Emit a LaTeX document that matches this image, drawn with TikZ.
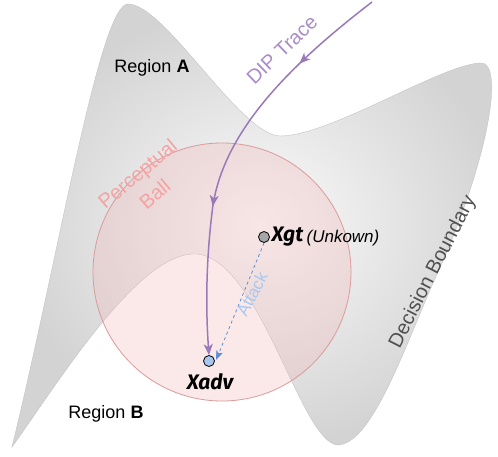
\documentclass[tikz,border=0pt]{standalone}
\usepackage{fontspec}
\setmainfont{Liberation Sans}
\newfontfamily\pointfont{Fira Sans}
\usetikzlibrary{arrows.meta,decorations.markings}
\definecolor{RegionGray}{HTML}{D3D3D3}
\definecolor{RegionLight}{HTML}{FBFBFB}
\definecolor{RegionEdge}{HTML}{C4C4C4}
\definecolor{BallFill}{HTML}{F2B6B6}
\definecolor{BallEdge}{HTML}{DC9A9A}
\definecolor{BallText}{HTML}{F4A3A3}
\definecolor{TracePurple}{HTML}{9A79B8}
\definecolor{TraceText}{HTML}{AA8CC9}
\definecolor{AttackBlue}{HTML}{5B8ED2}
\definecolor{AttackText}{HTML}{A9C8EF}
\definecolor{AdvBlue}{HTML}{A9C6EE}
\definecolor{GtGray}{HTML}{A6A6A6}
\definecolor{BoundText}{HTML}{505050}

\begin{document}
\begin{tikzpicture}[x=1pt,y=-1pt]
    \tikzset{label text/.style={font=\fontsize{18}{20}\selectfont,inner sep=1pt},
      point/.style={circle,draw=black,line width=0.8pt,minimum size=11pt,inner sep=0pt},
      point text/.style={font=\pointfont\bfseries\itshape\fontsize{21}{23}\selectfont,inner sep=1pt},
      trace tip/.style={-{Stealth[length=11pt,width=9pt,inset=3pt]}}}
    \useasboundingbox (0,0) rectangle (498,457);
    % decision regions
    \shade[inner color=RegionLight,outer color=RegionGray,draw=RegionEdge,line width=0.4pt]
      (12,447) .. controls (60,250) and (100,4) .. (128,4)
      .. controls (165,4) and (240,135) .. (280,136)
      .. controls (330,136) and (440,65) .. (480,63)
      .. controls (505,60) and (490,160) .. (433,283)
      .. controls (400,360) and (370,445) .. (337,445)
      .. controls (300,440) and (260,260) .. (197,254)
      .. controls (140,250) and (60,380) .. (12,447) -- cycle;
    % perceptual ball
    \draw[fill=BallFill,fill opacity=0.3,draw=BallEdge,line width=0.8pt] (222,272) circle (129);
    \node[label text,rotate=40,text=BallText,align=center,font=\fontsize{20}{27}\selectfont] (ball) at (146,184) {Perceptual\\Ball};
    % points
    \node[point,fill=GtGray] (xgt) at (264,237) {};
    \node[point,fill=AdvBlue] (xadv) at (209,361) {};
    \node[point text,anchor=west] (gtname) at ([xshift=0.5pt]xgt.east) {Xgt};
    \node[anchor=west,inner sep=1pt,font=\itshape\fontsize{17}{19}\selectfont] (unknown) at ([xshift=1pt,yshift=-1pt]gtname.east) {(Unkown)};
    \node[point text] (advname) at (210,382) {Xadv};
    % DIP trace
    \coordinate (dipstart) at (372,2);
    \draw[TracePurple,line width=1.5pt,trace tip,
      postaction={decorate,decoration={markings,
        mark=at position 0.23 with {\arrow{Stealth[length=11pt,width=9pt,inset=3pt]}},
        mark=at position 0.64 with {\arrow{Stealth[length=11pt,width=9pt,inset=3pt]}}}}]
      (dipstart) .. controls (290,65) and (225,130) .. (213,205)
      .. controls (207,250) and (205,300) .. (xadv.north);
    \node[label text,rotate=44,text=TraceText,font=\fontsize{20}{21}\selectfont] (dip) at (282,50) {DIP Trace};
    % attack
    \draw[AttackBlue,dashed,line width=0.8pt,-{Stealth[length=9pt,width=7pt,inset=2pt]}]
      (xgt.south) -- ([xshift=3pt,yshift=-3pt]xadv.north east);
    \node[label text,rotate=62,text=AttackText,font=\fontsize{17}{18}\selectfont] (attack) at (252,294) {Attack};
    % region names
    \node[label text] (rega) at (152,68) {Region \textbf{A}};
    \node[label text] (regb) at (106,414) {Region \textbf{B}};
    \node[label text,rotate=63,text=BoundText,font=\fontsize{20}{21}\selectfont] (bound) at (433,272) {Decision Boundary};
  \end{tikzpicture}
\end{document}
